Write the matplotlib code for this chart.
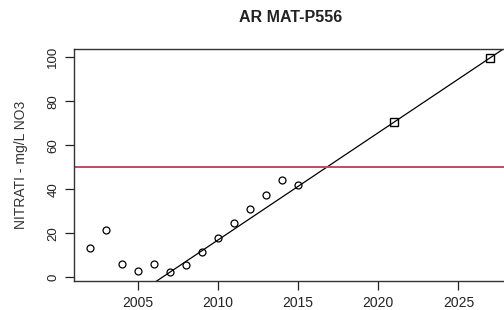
import matplotlib
matplotlib.use("Agg")
import matplotlib.pyplot as plt

# measured nitrate values
years = [2002, 2003, 2004, 2005, 2006, 2007, 2008, 2009, 2010, 2011, 2012, 2013, 2014, 2015]
nitrates = [13.6, 21.7, 5.9, 2.9, 5.9, 2.3, 5.6, 11.6, 18.1, 24.9, 30.9, 37.6, 44.2, 42.1]

# projected values (trend)
proj_years = [2021, 2027]
proj_values = [70.6, 99.8]

limit_value = 50
xticks = [2005, 2010, 2015, 2020, 2025]
yticks = [0, 20, 40, 60, 80, 100]

plt.rcParams["font.family"] = ["Liberation Sans", "DejaVu Sans"]

fig = plt.figure(figsize=(5.04, 3.10), dpi=100)
ax = fig.add_axes([0.1468, 0.0935, 0.8597, 0.7484])

ax.plot(years, nitrates, "o", mfc="none", mec="black", ms=5, mew=0.9)
ax.plot(proj_years, proj_values, "s", mfc="none", mec="black", ms=6, mew=1.0)
ax.axline((proj_years[0], proj_values[0]), (proj_years[1], proj_values[1]),
          color="black", lw=0.9)
ax.axhline(limit_value, color="#c44a58", lw=1.4)

ax.set_xlim(2001.0, 2028.05)
ax.set_ylim(-1.6, 103.7)
ax.set_xticks(xticks)
ax.set_yticks(yticks)
ax.tick_params(axis="x", length=6.5, width=0.9, pad=4, labelsize=10, colors="#222222")
ax.tick_params(axis="y", length=6.5, width=0.9, pad=4, labelsize=9.5, labelrotation=90,
               colors="#222222")
for lab in ax.get_yticklabels():
    lab.set_va("center")

for s in ax.spines.values():
    s.set_color("#333333")
    s.set_linewidth(1.0)

ax.set_ylabel("NITRATI - mg/L NO3", fontsize=10, color="#333333", labelpad=14)

fig.text(0.5766, 0.945, "AR MAT-P556", ha="center", va="center",
         fontsize=11.5, fontweight="bold", color="#222222")

fig.savefig("out.png", dpi=100)
